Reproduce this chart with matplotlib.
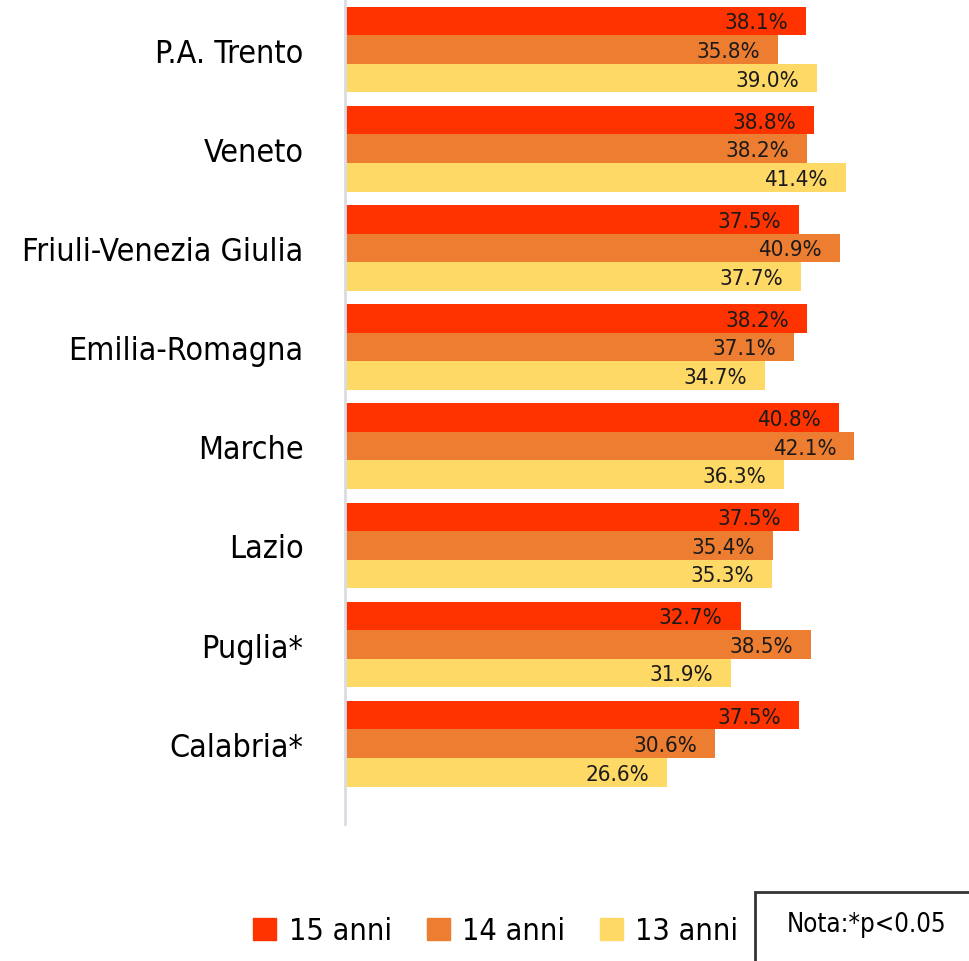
import matplotlib.pyplot as plt
import matplotlib.font_manager as fm
import numpy as np
from matplotlib.patches import Patch, Rectangle

regioni = ['P.A. Trento', 'Veneto', 'Friuli-Venezia Giulia', 'Emilia-Romagna',
           'Marche', 'Lazio', 'Puglia*', 'Calabria*']
anni_15 = [38.1, 38.8, 37.5, 38.2, 40.8, 37.5, 32.7, 37.5]
anni_14 = [35.8, 38.2, 40.9, 37.1, 42.1, 35.4, 38.5, 30.6]
anni_13 = [39.0, 41.4, 37.7, 34.7, 36.3, 35.3, 31.9, 26.6]

serie = ['15 anni', '14 anni', '13 anni']
colori = ['#FF3300', '#ED7D31', '#FFD966']

# cerca un font stretto (condensed/narrow), altrimenti Roboto
condensed = None
for f in fm.fontManager.ttflist:
    st = str(f.stretch).lower()
    nome = f.name + ' ' + f.fname
    if (('condensed' in st or 'narrow' in nome.lower() or 'condensed' in nome.lower())
            and f.style == 'normal' and str(f.weight) in ('400', 'normal', 'regular')
            and 'extra' not in st and 'ultra' not in st):
        condensed = f.fname
        break

if condensed:
    fp = fm.FontProperties(fname=condensed)
    s_lab, s_cat, s_leg, s_nota = 16, 23, 22, 18.5
else:
    fp = fm.FontProperties(family='Roboto')
    s_lab, s_cat, s_leg, s_nota = 14, 19, 19, 16

fig = plt.figure(figsize=(9.7, 9.62), dpi=100)
ax = fig.add_axes([345 / 970, 1 - 825 / 962, 625 / 970, 825 / 962])

y = np.arange(len(regioni))
h = 0.288
for i, (vals, col) in enumerate(zip([anni_15, anni_14, anni_13], colori)):
    bars = ax.barh(y + (i - 1) * h, vals, height=h, color=col, label=serie[i])
    for b, v in zip(bars, vals):
        # etichetta dentro la barra, un po' prima della fine
        ax.annotate('%.1f%%' % v, (b.get_width(), b.get_y() + b.get_height() / 2),
                    xytext=(-13, -1), textcoords='offset points',
                    ha='right', va='center', fontproperties=fp, fontsize=s_lab, color='#1a1a1a')

ax.set_xlim(0, 625 / 12.1)
ax.set_ylim(7.81, -0.51)
ax.set_yticks(y)
ax.set_yticklabels(regioni)
for t in ax.get_yticklabels():
    t.set_fontproperties(fp)
    t.set_fontsize(s_cat)
ax.tick_params(axis='y', length=0, pad=30)
ax.set_xticks([])
for s in ['top', 'right', 'bottom']:
    ax.spines[s].set_visible(False)
ax.spines['left'].set_color('#D9DCE3')
ax.spines['left'].set_linewidth(2)

# legenda in basso
handles = [Patch(color=c) for c in colori]
leg_fp = fp.copy()
leg_fp.set_size(s_leg)
fig.legend(handles, serie, loc='center', bbox_to_anchor=(496 / 970, 1 - 932 / 962),
           ncol=3, frameon=False, prop=leg_fp, handlelength=0.75, handleheight=0.75,
           handletextpad=0.4, columnspacing=1.15)

# riquadro nota
fig.patches.append(Rectangle((755 / 970, -0.01), 0.3, 1 - 893 / 962 + 0.01,
                             transform=fig.transFigure, fill=False, edgecolor='#333333', lw=2))
fig.text(787 / 970, 1 - 925 / 962, 'Nota:*p<0.05', fontproperties=fp, fontsize=s_nota,
         va='center', ha='left')

plt.savefig('out.png')
